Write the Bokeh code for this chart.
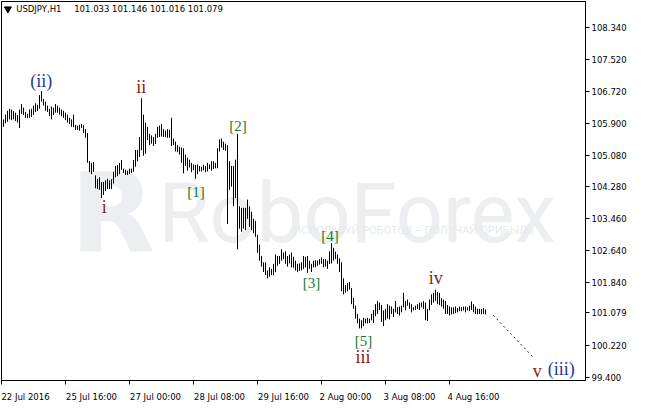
from bokeh.plotting import figure
from bokeh.models import (LinearAxis, FixedTicker, Range1d, ColumnDataSource,
                          NumeralTickFormatter)
from bokeh.core.properties import value
from bokeh.embed import file_html
from bokeh.resources import INLINE

# ---------------- data ----------------
symbol = "USDJPY,H1"
last_ohlc = "101.033 101.146 101.016 101.079"
last_price = 101.079

highs = [
    105.86, 106.00, 106.12, 106.22, 106.27, 106.25, 106.21, 106.17, 106.11, 106.25,
    106.39, 106.30, 106.19, 106.14, 106.25, 106.27, 106.35, 106.41, 106.37, 106.62,
    106.72, 106.52, 106.45, 106.35, 106.27, 106.33, 106.30, 106.39, 106.35, 106.30,
    106.25, 106.22, 106.17, 106.12, 106.04, 106.00, 106.12, 105.86, 105.84, 105.86,
    105.88, 105.86, 105.75, 105.65, 104.93, 104.89, 104.91, 104.57, 104.48, 104.52,
    104.40, 104.40, 104.44, 104.48, 104.44, 104.47, 104.66, 104.81, 104.83, 104.89,
    104.96, 104.74, 104.71, 104.69, 104.74, 104.74, 104.96, 105.22, 105.22, 105.55,
    106.54, 106.12, 105.92, 105.81, 105.63, 105.59, 105.55, 105.63, 105.81, 105.84,
    105.88, 105.75, 105.71, 105.75, 105.73, 106.04, 105.51, 105.43, 105.34, 105.30,
    105.28, 105.26, 105.10, 105.02, 104.97, 104.89, 104.85, 104.84, 104.85, 104.81,
    104.79, 104.84, 104.81, 104.89, 104.85, 104.93, 104.93, 104.89, 105.26, 105.49,
    105.51, 105.43, 105.38, 105.34, 104.93, 104.81, 104.81, 104.97, 105.63, 103.78,
    103.74, 103.74, 103.74, 103.95, 103.78, 103.64, 103.46, 103.41, 103.05, 102.80,
    102.51, 102.35, 102.35, 102.14, 102.22, 102.18, 102.31, 102.55, 102.51, 102.51,
    102.68, 102.60, 102.63, 102.51, 102.55, 102.60, 102.49, 102.39, 102.31, 102.32,
    102.35, 102.51, 102.49, 102.51, 102.39, 102.31, 102.39, 102.40, 102.39, 102.43,
    102.47, 102.43, 102.43, 102.39, 102.63, 102.84, 102.72, 102.62, 102.55, 102.45,
    102.35, 101.94, 101.77, 101.82, 101.84, 101.69, 101.44, 101.24, 101.03, 100.91,
    100.87, 100.93, 100.91, 100.93, 100.91, 101.03, 101.13, 101.28, 101.36, 101.32,
    101.26, 101.12, 101.16, 101.28, 101.24, 101.22, 101.16, 101.36, 101.20, 101.22,
    101.24, 101.57, 101.36, 101.40, 101.32, 101.28, 101.20, 101.24, 101.28, 101.32,
    101.32, 101.36, 101.32, 101.16, 101.40, 101.53, 101.57, 101.65, 101.59, 101.57,
    101.43, 101.40, 101.36, 101.26, 101.22, 101.20, 101.20, 101.22, 101.18, 101.22,
    101.20, 101.22, 101.22, 101.20, 101.24, 101.35, 101.28, 101.22, 101.16, 101.16,
    101.16, 101.18, 101.146,
]

lows = [
    105.61, 105.81, 105.90, 105.94, 106.00, 105.98, 106.00, 105.96, 105.92, 105.78,
    106.14, 106.11, 106.04, 106.03, 106.04, 106.06, 106.11, 106.19, 106.21, 106.27,
    106.45, 106.35, 106.22, 106.19, 106.08, 106.00, 106.11, 106.17, 106.17, 106.12,
    106.08, 106.04, 105.98, 105.92, 105.88, 105.81, 105.80, 105.73, 105.73, 105.71,
    105.78, 105.65, 105.53, 104.89, 104.65, 104.60, 104.66, 104.24, 104.22, 104.20,
    103.99, 104.07, 104.17, 104.22, 104.22, 104.22, 104.36, 104.52, 104.55, 104.60,
    104.71, 104.63, 104.58, 104.58, 104.60, 104.63, 104.66, 104.79, 104.93, 105.04,
    105.21, 105.07, 105.12, 105.47, 105.34, 105.38, 105.32, 105.37, 105.53, 105.55,
    105.56, 105.55, 105.55, 105.53, 105.53, 105.32, 105.34, 105.18, 105.16, 105.10,
    104.89, 104.62, 104.81, 104.69, 104.77, 104.65, 104.70, 104.48, 104.60, 104.67,
    104.67, 104.70, 104.65, 104.67, 104.73, 104.69, 104.73, 104.75, 104.75, 105.18,
    105.28, 105.22, 105.20, 103.33, 104.20, 104.28, 103.78, 103.99, 102.68, 103.21,
    103.13, 103.21, 103.17, 103.46, 103.25, 103.17, 103.09, 103.00, 102.59, 102.39,
    102.24, 102.10, 102.02, 101.94, 101.98, 102.02, 102.02, 102.10, 102.26, 102.31,
    102.39, 102.43, 102.31, 102.24, 102.32, 102.22, 102.21, 102.14, 102.10, 102.13,
    102.14, 102.18, 102.22, 102.08, 102.18, 102.10, 102.22, 102.22, 102.26, 102.29,
    102.31, 102.22, 102.24, 102.18, 102.31, 102.32, 102.39, 102.43, 102.31, 102.10,
    101.61, 101.53, 101.57, 101.61, 101.65, 101.28, 101.16, 100.91, 100.79, 100.66,
    100.66, 100.72, 100.79, 100.79, 100.80, 100.87, 100.80, 100.97, 101.03, 101.13,
    100.83, 100.72, 100.87, 100.91, 100.89, 101.03, 100.95, 101.07, 101.03, 100.99,
    101.07, 101.20, 101.12, 101.24, 101.16, 101.07, 101.12, 101.13, 101.16, 101.13,
    101.20, 101.16, 100.87, 100.85, 101.12, 101.26, 101.32, 101.36, 101.28, 101.26,
    101.22, 101.16, 101.03, 101.03, 100.99, 101.02, 101.03, 101.05, 101.07, 101.10,
    101.10, 101.12, 101.07, 101.12, 101.10, 101.13, 101.07, 101.03, 101.02, 101.03,
    101.02, 101.03, 101.016,
]

xtick_idx = [0, 32, 64, 96, 128, 160, 192, 224]
xtick_labels = ["22 Jul 2016", "25 Jul 16:00", "27 Jul 00:00", "28 Jul 08:00",
                "29 Jul 16:00", "2 Aug 00:00", "3 Aug 08:00", "4 Aug 16:00"]
ytick_vals = [99.40, 100.22, 101.84, 102.64, 103.46, 104.28, 105.08, 105.90,
              106.72, 107.52, 108.34]

# Elliott wave marks: text, bar index, price, degree
wave_text = ["(ii)", "ii", "i", "[1]", "[2]", "[3]", "[4]", "[5]", "iii", "iv", "v", "(iii)"]
wave_x = [19.9, 69.9, 51.4, 97.2, 118.2, 155.0, 164.2, 181.0, 180.7, 217.1, 267.9, 279.9]
wave_y = [106.98, 106.82, 103.76, 104.15, 105.83, 101.82, 103.03, 100.35, 99.93, 101.95, 99.57, 99.62]
wave_deg = ["intermediate", "minor", "minor", "minute", "minute", "minute", "minute",
            "minute", "minor", "minor", "minor", "intermediate"]

# projected path of wave v
proj_x = [245.8, 266.3]
proj_y = [101.00, 99.90]

# ---------------- figure ----------------
n = min(len(highs), len(lows))
idx = list(range(n))

FRAME_W = 584
BAR_PX = 2.0
x0 = 0.0
p = figure(frame_width=FRAME_W, frame_height=379,
           x_range=Range1d(x0, x0 + FRAME_W / BAR_PX), y_range=Range1d(99.33, 109.01),
           output_backend="svg", toolbar_location=None, x_axis_location=None,
           y_axis_location="right", min_border_left=1, min_border_top=1,
           min_border_right=2, min_border_bottom=0)
p.grid.visible = False
p.background_fill_color = "white"
p.border_fill_color = "white"
p.outline_line_color = "black"
p.outline_line_width = 1
p.outline_line_alpha = 1

AXIS_FONT = value("DejaVu Sans")

ya = p.yaxis[0]
ya.ticker = FixedTicker(ticks=ytick_vals + [last_price])
ya.formatter = NumeralTickFormatter(format="0.000")
ya.minor_tick_line_color = None
ya.major_tick_out = 4
ya.major_tick_in = 0
ya.major_label_standoff = 2
ya.major_label_text_font = "DejaVu Sans"
ya.major_label_text_font_size = "8.5px"
ya.major_label_text_color = "black"
ya.axis_line_color = "black"

ax_ticks = LinearAxis(ticker=FixedTicker(ticks=xtick_idx),
                      major_label_overrides={t: "" for t in xtick_idx},
                      major_label_text_font_size="1px", major_label_standoff=0,
                      major_tick_out=4, major_tick_in=0, minor_tick_line_color=None,
                      axis_line_color="black")
p.add_layout(ax_ticks, "below")

lab_pos = [t + int(round((len(s) * 4.3 / 2 + 1) / BAR_PX)) for t, s in zip(xtick_idx, xtick_labels)]
ax_lab = LinearAxis(ticker=FixedTicker(ticks=lab_pos),
                    major_label_overrides={lp: s for lp, s in zip(lab_pos, xtick_labels)},
                    major_label_text_font="DejaVu Sans", major_label_text_font_size="8.5px",
                    major_label_text_color="black", major_label_standoff=1,
                    major_tick_line_color=None, minor_tick_line_color=None,
                    axis_line_color=None)
p.add_layout(ax_lab, "below")

# watermark
wm_color = "#eceef2"
p.text(x=[34.4], y=[103.587], text=["R"], text_font=value("DejaVu Sans"),
       text_font_style="bold", text_font_size="110px", text_color=wm_color,
       text_align="left", text_baseline="alphabetic")
p.text(x=[78.4], y=[103.587], text=["RoboForex"],
       text_font=value("Roboto"),
       text_font_size="83px", text_color=wm_color,
       text_align="left", text_baseline="alphabetic")
p.text(x=[145.9], y=[103.168], text=["ИСПОЛЬЗУЙ РОБОТОВ – ПОЛУЧАЙ ПРИБЫЛЬ"],
       text_font=value("Roboto"), text_font_size="11px", text_color="#e6eaef",
       text_align="left", text_baseline="alphabetic")

# bars
src = ColumnDataSource(dict(x=idx, hi=highs[:n], lo=lows[:n]))
p.segment(x0="x", y0="lo", x1="x", y1="hi", source=src, line_color="black", line_width=1)

# projection
p.line(proj_x, proj_y, line_color="#1a1a80", line_width=1, line_dash="2 3")

# wave labels
styles = {
    "intermediate": ("#27389a", "18px"),
    "minor": ("#8b1a1a", "18px"),
    "minute": ("#197a2e", "15px"),
}
for deg, (col, size) in styles.items():
    sel = [i for i, d in enumerate(wave_deg) if d == deg]
    s = ColumnDataSource(dict(x=[wave_x[i] for i in sel], y=[wave_y[i] for i in sel],
                              t=[wave_text[i] for i in sel]))
    p.text(x="x", y="y", text="t", source=s, text_font=value("Liberation Serif"),
           text_font_size=size, text_color=col, text_align="center", text_baseline="middle")

# header
p.scatter(x=[3.2], y=[108.82], marker="inverted_triangle", size=7, color="black")
p.text(x=[7.35], y=[108.83], text=[symbol], text_font=AXIS_FONT, text_font_size="8.5px",
       text_color="black", text_align="left", text_baseline="middle")
p.text(x=[36.35], y=[108.83], text=[last_ohlc], text_font=AXIS_FONT, text_font_size="8.5px",
       text_color="black", text_align="left", text_baseline="middle")

open("out.html", "w").write(file_html(p, INLINE))
